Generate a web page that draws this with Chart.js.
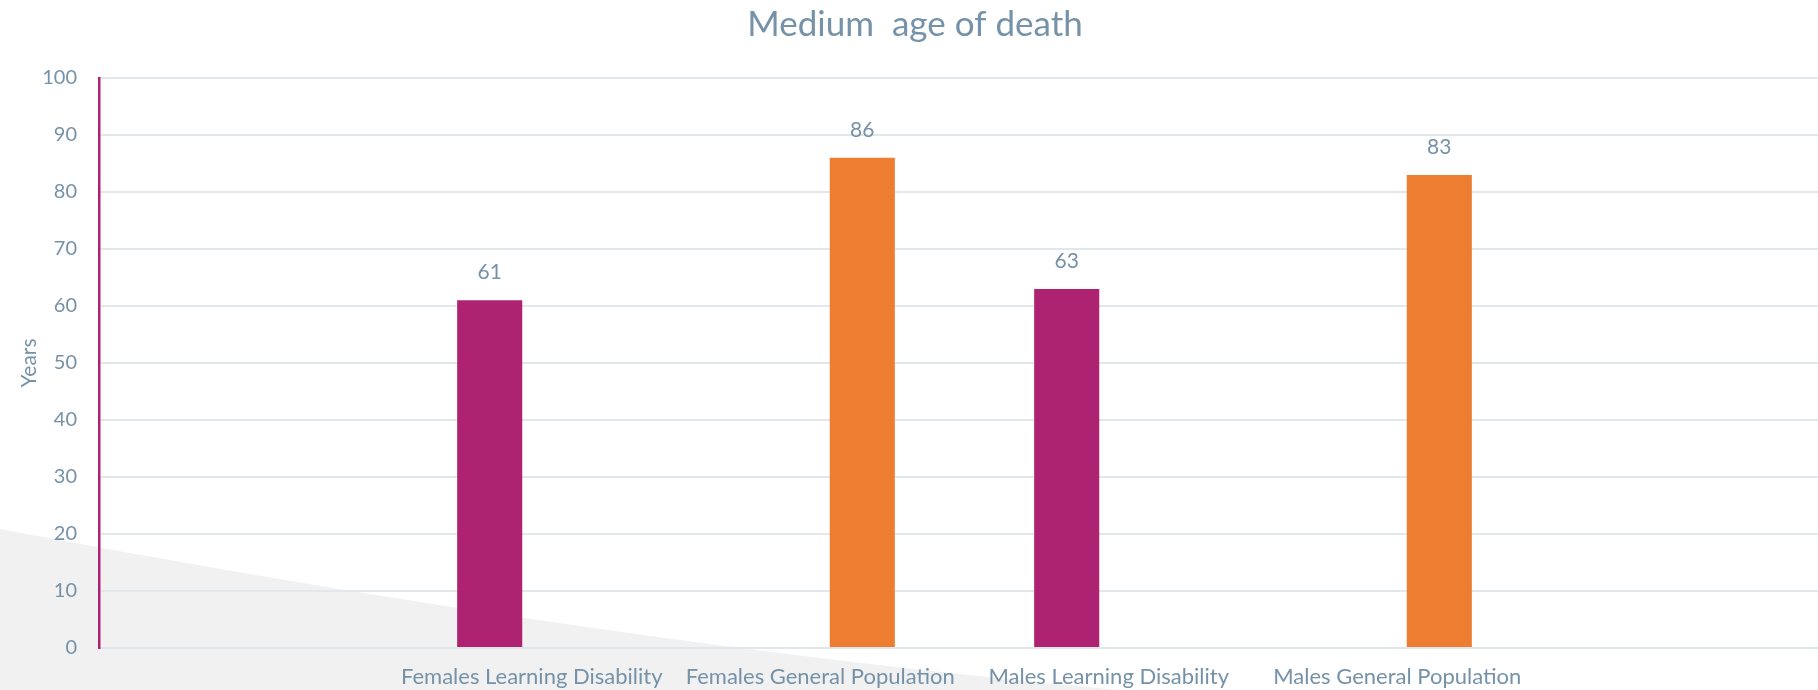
<!DOCTYPE html>
<html>
<head>
<meta charset="utf-8">
<script src="https://cdn.jsdelivr.net/npm/chart.js@4.4.0/dist/chart.umd.min.js"></script>
<style>
  html, body { margin: 0; padding: 0; background: #ffffff; overflow: hidden; }
  #wrap { position: relative; width: 1830px; height: 690px; }
</style>
</head>
<body>
<div id="wrap"><canvas id="ageChart"></canvas></div>
<script>
// Data
const categories = [
  "Females Learning Disability",
  "Females General Population",
  "Males Learning Disability",
  "Males General Population",
];
const learningDisability = [61, null, 63, null];
const generalPopulation = [null, 86, null, 83];
const yTicks = [0, 10, 20, 30, 40, 50, 60, 70, 80, 90, 100];

const textColor = "#7592a8";
const fontFamily = "Lato, 'Open Sans', sans-serif";

// empty slot at each end, like the original layout
const labels = [""].concat(categories, [""]);
const pad = (arr) => [null].concat(arr, [null]);

// grey wedge in the bottom-left corner
const backgroundShape = {
  id: "backgroundShape",
  beforeDraw(chart) {
    const ctx = chart.ctx;
    ctx.save();
    ctx.fillStyle = "#f1f1f1";
    ctx.beginPath();
    ctx.moveTo(0, 529);
    ctx.quadraticCurveTo(602, 643, 1120, 690);
    ctx.lineTo(0, 690);
    ctx.closePath();
    ctx.fill();
    ctx.restore();
  },
};

// value labels above each bar
const valueLabels = {
  id: "valueLabels",
  afterDatasetsDraw(chart) {
    const ctx = chart.ctx;
    ctx.save();
    ctx.fillStyle = textColor;
    ctx.font = "21px " + fontFamily;
    ctx.textAlign = "center";
    ctx.textBaseline = "middle";
    chart.data.datasets.forEach((ds, i) => {
      const meta = chart.getDatasetMeta(i);
      meta.data.forEach((bar, j) => {
        const v = ds.data[j];
        if (v === null || v === undefined) return;
        ctx.fillText(String(v), bar.x, bar.y - 28);
      });
    });
    ctx.restore();
  },
};

const ctxBar = document.getElementById("ageChart");
const ageChart = new Chart(ctxBar, {
  type: "bar",
  data: {
    labels: labels,
    datasets: [
      {
        label: "Learning Disability",
        data: pad(learningDisability),
        backgroundColor: "#ae2371",
        borderWidth: 0,
      },
      {
        label: "General Population",
        data: pad(generalPopulation),
        backgroundColor: "#ed7d31",
        borderWidth: 0,
      },
    ],
  },
  options: {
    responsive: true,
    maintainAspectRatio: false,
    animation: false,
    categoryPercentage: 0.583,
    barPercentage: 0.774,
    layout: { padding: { left: 0, right: 0, top: 0, bottom: 0 } },
    plugins: {
      legend: { display: false },
      tooltip: { enabled: false },
      title: {
        display: true,
        text: "Medium  age of death",
        color: textColor,
        font: { family: fontFamily, size: 35, weight: "normal" },
        padding: { top: 4, bottom: 32 },
      },
    },
    scales: {
      x: {
        afterFit(scale) {
          scale.height = 42;
        },
        grid: { display: false, drawTicks: false },
        border: { color: "#e1e6eb", width: 2 },
        ticks: {
          color: textColor,
          font: { family: fontFamily, size: 22 },
          padding: 16,
          maxRotation: 0,
          autoSkip: false,
        },
      },
      y: {
        min: 0,
        max: 100,
        afterBuildTicks(scale) {
          scale.ticks = yTicks.map((v) => ({ value: v }));
        },
        afterFit(scale) {
          scale.width = 99;
        },
        grid: { color: "#e2e7eb", lineWidth: 2, drawTicks: false },
        border: { color: "#ae2371", width: 2.5 },
        ticks: {
          color: textColor,
          font: { family: fontFamily, size: 20 },
          padding: 22,
        },
        title: {
          display: true,
          text: "Years",
          color: textColor,
          font: { family: fontFamily, size: 21 },
          padding: { top: 17, bottom: 0 },
        },
      },
    },
  },
  plugins: [backgroundShape, valueLabels],
});
</script>
</body>
</html>
